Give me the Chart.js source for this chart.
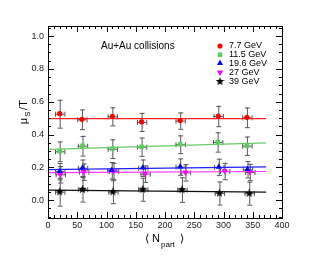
<!DOCTYPE html>
<html>
<head>
<meta charset="utf-8">
<script src="https://cdn.jsdelivr.net/npm/chart.js@4.4.0/dist/chart.umd.min.js"></script>
<style>
  html, body { margin: 0; padding: 0; background: #fff; }
</style>
</head>
<body>
<canvas id="chart" width="317" height="261"></canvas>
<script>
// data
const energies = ['7.7 GeV', '11.5 GeV', '19.6 GeV', '27 GeV', '39 GeV']

const npart77 = [20, 58, 110, 160, 226, 291, 340]
const mu77 = [0.527, 0.493, 0.511, 0.477, 0.485, 0.513, 0.505]
const err77 = [0.085, 0.06, 0.055, 0.055, 0.05, 0.062, 0.06]

const npart115 = [20, 59, 110, 160, 226, 290, 340]
const mu115 = [0.298, 0.332, 0.314, 0.326, 0.341, 0.355, 0.332]
const err115 = [0.06, 0.06, 0.057, 0.056, 0.054, 0.059, 0.056]

const npart196 = [20, 59, 109, 162, 226, 292, 341]
const mu196 = [0.177, 0.198, 0.183, 0.198, 0.205, 0.203, 0.189]
const err196 = [0.05, 0.05, 0.05, 0.05, 0.05, 0.05, 0.05]

const npart27 = [21, 61, 112, 166, 235, 302, 345]
const mu27 = [0.158, 0.174, 0.178, 0.162, 0.17, 0.178, 0.172]
const err27 = [0.05, 0.05, 0.05, 0.05, 0.05, 0.05, 0.05]

const npart39 = [20, 59, 111, 162, 229, 293, 344]
const mu39 = [0.052, 0.067, 0.052, 0.067, 0.065, 0.044, 0.043]
const err39 = [0.085, 0.075, 0.07, 0.07, 0.075, 0.07, 0.07]

const xErr = 8

// fit lines (start, end)
const fitX = [0, 373]
const fit77 = [0.497, 0.497]
const fit115 = [0.31, 0.35]
const fit196 = [0.186, 0.203]
const fit27 = [0.168, 0.175]
const fit39 = [0.062, 0.049]

const yTicks = [0, 0.2, 0.4, 0.6, 0.8, 1.0]
const xTicks = [0, 50, 100, 150, 200, 250, 300, 350, 400]

const colors = ['#ff0000', '#5acc5a', '#0000ff', '#ff00ff', '#000000']
const lineColors = ['#ff2020', '#66cc66', '#2020ff', '#ff30ff', '#101010']

// 5-point star marker
function makeStar(size, color) {
  const c = document.createElement('canvas')
  c.width = size
  c.height = size
  const g = c.getContext('2d')
  const r = size / 2
  g.beginPath()
  for (let i = 0; i < 10; i++) {
    const a = -Math.PI / 2 + i * Math.PI / 5
    const rr = i % 2 === 0 ? r : r * 0.42
    g.lineTo(r + rr * Math.cos(a), r + rr * Math.sin(a))
  }
  g.closePath()
  g.fillStyle = color
  g.fill()
  return c
}
const star = makeStar(9, '#000')

const styles = [
  { pointStyle: 'circle', radius: 2.6, rotation: 0 },
  { pointStyle: 'rect', radius: 3.2, rotation: 0 },
  { pointStyle: 'triangle', radius: 3.6, rotation: 0 },
  { pointStyle: 'triangle', radius: 3.6, rotation: 180 },
  { pointStyle: star, radius: 4, rotation: 0 },
]

const seriesX = [npart77, npart115, npart196, npart27, npart39]
const seriesY = [mu77, mu115, mu196, mu27, mu39]
const seriesE = [err77, err115, err196, err27, err39]
const fits = [fit77, fit115, fit196, fit27, fit39]

const datasets = []
energies.forEach((name, i) => {
  datasets.push({
    label: name + ' fit',
    type: 'line',
    data: fitX.map((x, k) => ({ x: x, y: fits[i][k] })),
    borderColor: lineColors[i],
    borderWidth: 1.2,
    pointRadius: 0,
    fill: false,
    order: 2,
  })
})
energies.forEach((name, i) => {
  datasets.push({
    label: name,
    type: 'scatter',
    data: seriesX[i].map((x, k) => ({ x: x, y: seriesY[i][k], e: seriesE[i][k] })),
    backgroundColor: colors[i],
    borderColor: colors[i],
    borderWidth: 0,
    pointStyle: styles[i].pointStyle,
    pointRadius: styles[i].radius,
    rotation: styles[i].rotation,
    order: 1,
  })
})

// error bars under the markers
const errorBars = {
  id: 'errorBars',
  beforeDatasetsDraw(chart) {
    const ctx = chart.ctx
    const xs = chart.scales.x
    const ys = chart.scales.y
    ctx.save()
    ctx.strokeStyle = '#555'
    ctx.lineWidth = 1
    chart.data.datasets.forEach((ds) => {
      if (ds.type !== 'scatter') return
      ds.data.forEach((p) => {
        const px = xs.getPixelForValue(p.x)
        const py = ys.getPixelForValue(p.y)
        const top = ys.getPixelForValue(p.y + p.e)
        const bot = ys.getPixelForValue(p.y - p.e)
        const l = xs.getPixelForValue(p.x - xErr)
        const r = xs.getPixelForValue(p.x + xErr)
        ctx.beginPath()
        ctx.moveTo(px + 0.5, top)
        ctx.lineTo(px + 0.5, bot)
        ctx.moveTo(px - 2, top + 0.5)
        ctx.lineTo(px + 3, top + 0.5)
        ctx.moveTo(px - 2, bot + 0.5)
        ctx.lineTo(px + 3, bot + 0.5)
        ctx.moveTo(l, py + 0.5)
        ctx.lineTo(r, py + 0.5)
        ctx.moveTo(l + 0.5, py - 2)
        ctx.lineTo(l + 0.5, py + 3)
        ctx.moveTo(r + 0.5, py - 2)
        ctx.lineTo(r + 0.5, py + 3)
        ctx.stroke()
      })
    })
    ctx.restore()
  },
}

// frame, ROOT-style inner ticks, labels, legend
const decor = {
  id: 'decor',
  afterDraw(chart) {
    const ctx = chart.ctx
    const a = chart.chartArea
    const xs = chart.scales.x
    const ys = chart.scales.y
    ctx.save()
    ctx.strokeStyle = '#000'
    ctx.lineWidth = 1
    ctx.strokeRect(Math.round(a.left) + 0.5, Math.round(a.top) + 0.5,
      Math.round(a.right - a.left), Math.round(a.bottom - a.top))

    ctx.beginPath()
    for (let v = 0; v <= 400; v += 10) {
      const px = Math.round(xs.getPixelForValue(v)) + 0.5
      const len = v % 50 === 0 ? 6 : 3
      ctx.moveTo(px, a.bottom)
      ctx.lineTo(px, a.bottom - len)
      ctx.moveTo(px, a.top)
      ctx.lineTo(px, a.top + len)
    }
    for (let v = -0.1; v <= 1.06; v += 0.05) {
      const vv = Math.round(v * 100) / 100
      const py = Math.round(ys.getPixelForValue(vv)) + 0.5
      const major = Math.abs(vv * 5 - Math.round(vv * 5)) < 1e-6
      const len = major ? 6 : 3
      ctx.moveTo(a.left, py)
      ctx.lineTo(a.left + len, py)
      ctx.moveTo(a.right, py)
      ctx.lineTo(a.right - len, py)
    }
    ctx.stroke()

    ctx.fillStyle = '#222'
    ctx.font = '9px "Liberation Sans", Arial, sans-serif'
    ctx.textAlign = 'right'
    ctx.textBaseline = 'middle'
    yTicks.forEach((v) => {
      ctx.fillText(v.toFixed(1), a.left - 4, ys.getPixelForValue(v))
    })
    ctx.textAlign = 'center'
    ctx.textBaseline = 'top'
    xTicks.forEach((v) => {
      ctx.fillText(String(v), xs.getPixelForValue(v), a.bottom + 3)
    })

    // axis titles
    ctx.fillStyle = '#000'
    ctx.font = '11px "Liberation Sans", Arial, sans-serif'
    ctx.save()
    ctx.translate(24, 112)
    ctx.rotate(-Math.PI / 2)
    ctx.textAlign = 'center'
    ctx.textBaseline = 'middle'
    ctx.fillText('\u03bc', -9, 0)
    ctx.font = '8px "Liberation Sans", Arial, sans-serif'
    ctx.fillText('S', -2, 4)
    ctx.font = '11px "Liberation Sans", Arial, sans-serif'
    ctx.fillText('/T', 7, 0)
    ctx.restore()

    ctx.textAlign = 'left'
    ctx.textBaseline = 'alphabetic'
    ctx.font = '11px "Liberation Sans", Arial, sans-serif'
    ctx.fillText('\u27e8 N', 145, 242)
    ctx.font = '8px "Liberation Sans", Arial, sans-serif'
    ctx.fillText('part', 161, 247)
    ctx.font = '11px "Liberation Sans", Arial, sans-serif'
    ctx.fillText('\u27e9', 180, 242)

    ctx.font = '10px "Liberation Sans", Arial, sans-serif'
    ctx.fillText('Au+Au collisions', 101, 49)

    // legend
    ctx.font = '9px "Liberation Sans", Arial, sans-serif'
    ctx.textBaseline = 'middle'
    const rows = [46, 54.7, 63.3, 72.3, 81.5]
    energies.forEach((name, i) => {
      ctx.fillStyle = colors[i]
      ctx.strokeStyle = colors[i]
      Chart.helpers.drawPoint(ctx, {
        pointStyle: styles[i].pointStyle,
        radius: styles[i].radius,
        rotation: styles[i].rotation,
        borderWidth: 0,
      }, 220, rows[i])
      ctx.fillStyle = '#000'
      ctx.fillText(name, 229, rows[i])
    })
    ctx.restore()
  },
}

new Chart(document.getElementById('chart').getContext('2d'), {
  type: 'scatter',
  data: { datasets: datasets },
  options: {
    responsive: false,
    animation: false,
    devicePixelRatio: 1,
    layout: { padding: { left: 48, right: 35, top: 26, bottom: 43 } },
    scales: {
      x: { type: 'linear', min: 0, max: 400, display: false },
      y: { type: 'linear', min: -0.108, max: 1.061, display: false },
    },
    plugins: {
      legend: { display: false },
      tooltip: { enabled: false },
    },
  },
  plugins: [errorBars, decor],
})
</script>
</body>
</html>
